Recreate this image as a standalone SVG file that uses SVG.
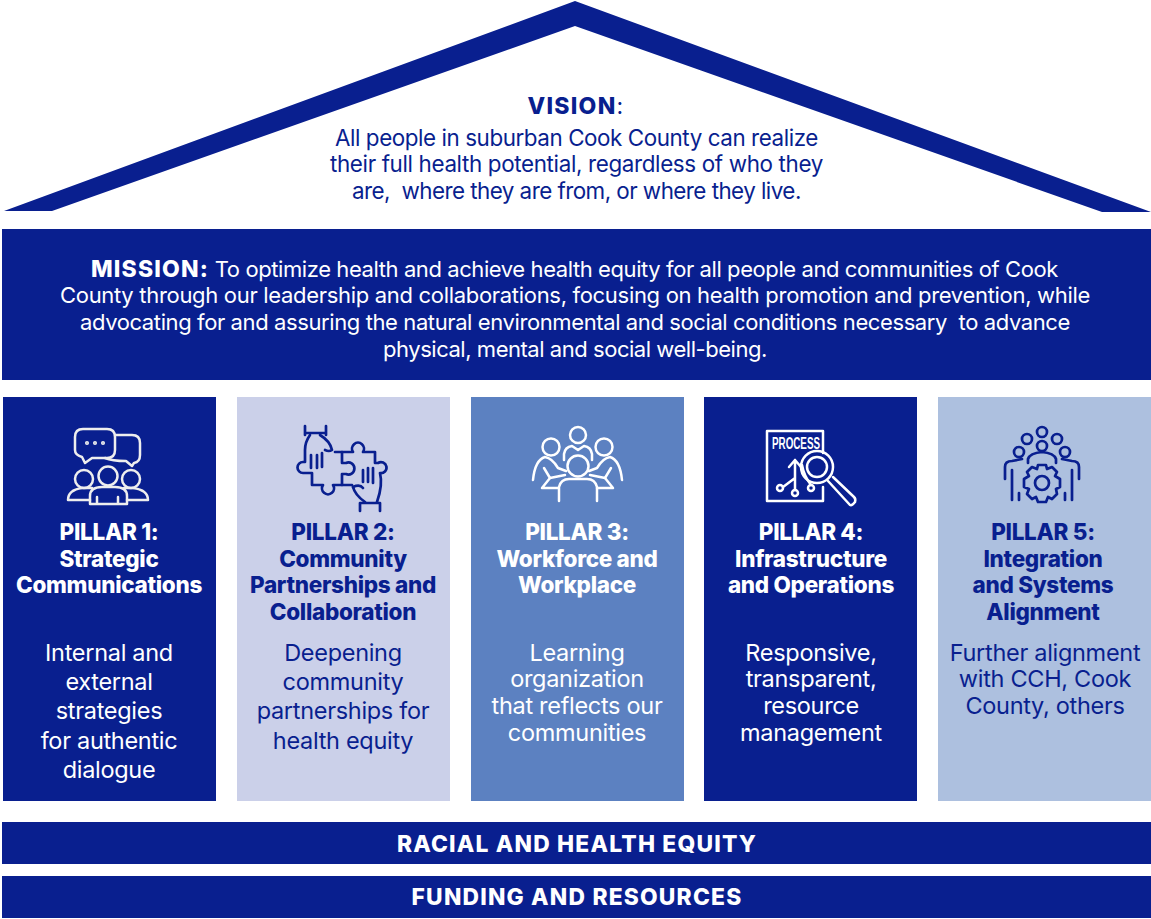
<svg xmlns="http://www.w3.org/2000/svg" width="1151" height="919" viewBox="0 0 1151 919">
<style>
text{font-family:Inter,"Open Sans","Liberation Sans",sans-serif;text-anchor:middle;white-space:pre}
.b{fill:#091f8f}.w{fill:#fff}
.h{font-size:22.5px;font-weight:800;letter-spacing:-.3px}
.v{font-size:22.4px;letter-spacing:-.33px}
.m{font-size:22px;letter-spacing:-.33px}
.k{font-size:23px;font-weight:800;letter-spacing:1.25px}
.c{font-size:23.5px;letter-spacing:-.3px}
.bar{font-size:22.8px;font-weight:800;letter-spacing:1.2px}
.iw,.id{fill:none;stroke-width:2.5;stroke-linecap:round;stroke-linejoin:round}
.iw{stroke:#fff}.id{stroke:#091f8f;stroke-width:2.7}
</style>
<rect width="1151" height="919" fill="#fff"/>
<g id="roof">
<path class="b" d="M4 211 L575 1 L1151 212 L1102 212 L575 26 L52 211Z"/>
<text class="b k" x="576" y="114">VISION<tspan font-weight="400">:</tspan></text>
<text class="b v" x="576.500" y="146" textLength="483">All people in suburban Cook County can realize</text>
<text class="b v" x="576.500" y="172" textLength="493">their full health potential, regardless of who they</text>
<text class="b v" x="576.500" y="199" textLength="449">are,  where they are from, or where they live.</text>
</g>
<g id="mission">
<rect class="b" x="2" y="229" width="1149" height="151"/>
<text class="w m" x="574.500" y="277" textLength="967"><tspan class="k">MISSION:</tspan> To optimize health and achieve health equity for all people and communities of Cook</text>
<text class="w m" x="575" y="303" textLength="1030">County through our leadership and collaborations, focusing on health promotion and prevention, while</text>
<text class="w m" x="575" y="330" textLength="990">advocating for and assuring the natural environmental and social conditions necessary  to advance</text>
<text class="w m" x="575" y="357" textLength="384">physical, mental and social well-being.</text>
</g>
<g id="pillar1">
<rect class="b" x="3" y="397" width="213" height="404"/>
<g class="iw" style="stroke:#eee">
<path d="M83 429H107Q115 429 115 437V450Q115 458 107 458H92L85 463 82 457Q75 455 75 450V437Q75 429 83 429Z"/>
<path d="M116 435H132Q140 435 140 443V455Q140 462 134 463L132 466 126 461Q112 461 105 458"/>
<circle cx="84" cy="479" r="9"/><circle cx="108" cy="476" r="9.500"/><circle cx="131" cy="479" r="9"/>
<path d="M90 500H68Q68 490 82 488H92"/><path d="M127 500H148Q148 490 133 488H124"/>
<path d="M90 504V496Q90 487 102 487H115Q127 487 127 496V504Z"/>
<path d="M97 497V503M118 497V503"/>
<circle cx="87" cy="443" r=".8"/><circle cx="95" cy="443" r=".8"/><circle cx="103" cy="443" r=".8"/>
</g>
<text class="w h" x="109" y="540">PILLAR 1:</text>
<text class="w h" x="109" y="567">Strategic</text>
<text class="w h" x="109" y="593">Communications</text>
<text class="w c" x="109" y="661">Internal and</text>
<text class="w c" x="109" y="690">external</text>
<text class="w c" x="109" y="719">strategies</text>
<text class="w c" x="109" y="749">for authentic</text>
<text class="w c" x="109" y="778">dialogue</text>
</g>
<g id="pillar2">
<rect x="237" y="397" width="213" height="404" fill="#cbd0e9"/>
<g class="id">
<path d="M305 426V435M326 426V435M305 433H326"/>
<path d="M310 435Q305 442 305 450V462H303A5.500 5.500 0 1 0 303 473H312V485H323A6 6 0 1 0 333 485H352"/>
<path d="M320 435Q330 441 332 450 329 452 325 450"/>
<path d="M311 455V468M317 455V468M322 453V467"/>
<path d="M335 452H342V463H346A6 6 0 1 1 346 474H342V485"/>
<path d="M342 452H353A6 6 0 1 1 363 452H375V463H378A5.500 5.500 0 1 1 380 473Q383 485 377 502"/>
<path d="M353 487Q355 495 365 502"/>
<path d="M353 487Q360 484 363 488"/>
<path d="M360 503H380M360 503V511M380 503V511"/>
<path d="M363 470V482M368 468V482M373 468V483"/>
</g>
<text class="b h" x="343" y="540">PILLAR 2:</text>
<text class="b h" x="343" y="567">Community</text>
<text class="b h" x="343" y="593">Partnerships and</text>
<text class="b h" x="343" y="620">Collaboration</text>
<text class="b c" x="343" y="661">Deepening</text>
<text class="b c" x="343" y="690">community</text>
<text class="b c" x="343" y="719">partnerships for</text>
<text class="b c" x="343" y="749">health equity</text>
</g>
<g id="pillar3">
<rect x="471" y="397" width="213" height="404" fill="#5c81c1"/>
<g class="iw">
<circle cx="578" cy="435" r="8"/><circle cx="551" cy="447" r="8.500"/><circle cx="604" cy="447" r="8.500"/><circle cx="578" cy="466" r="10.500"/>
<path d="M533 480Q535 460 545 457 552 458 558 468L566 471"/>
<path d="M622 480Q620 460 610 457 603 458 597 468L589 471"/>
<path d="M564 460V454Q565 447 572 446L578 450 584 446Q591 447 592 454V460"/>
<path d="M544 468L550 478 565 475M611 468L605 478 590 475"/>
<path d="M550 478L542 488H558M605 478L613 488H597"/>
<path d="M559 501V487Q561 479 569 479H587Q595 479 597 487V501"/>
</g>
<text class="w h" x="577" y="540">PILLAR 3:</text>
<text class="w h" x="577" y="567">Workforce and</text>
<text class="w h" x="577" y="593">Workplace</text>
<text class="w c" x="577" y="661">Learning</text>
<text class="w c" x="577" y="687">organization</text>
<text class="w c" x="577" y="714">that reflects our</text>
<text class="w c" x="577" y="741">communities</text>
</g>
<g id="pillar4">
<rect class="b" x="704" y="397" width="213" height="404"/>
<g class="iw">
<path d="M823 453V431H767V501H823V487"/>
<circle cx="817" cy="467" r="16"/><circle cx="817" cy="467" r="10"/>
<path d="M828 481L850 505Q852 506 855 502 856 499 854 497L833 477"/>
<path d="M795 486V460M789 467L795 460 801 467M795 478L783 487M795 478V490M802 465Q804 476 811 485"/>
<circle cx="780" cy="488" r="3"/><circle cx="795" cy="493" r="3"/><circle cx="811" cy="488" r="3"/>
</g>
<text x="796" y="449" class="w" textLength="48" lengthAdjust="spacingAndGlyphs" style="font-size:16px;font-weight:700;font-family:'Liberation Sans',sans-serif">PROCESS</text>
<text class="w h" x="811" y="540">PILLAR 4:</text>
<text class="w h" x="811" y="567">Infrastructure</text>
<text class="w h" x="811" y="593">and Operations</text>
<text class="w c" x="811" y="661">Responsive,</text>
<text class="w c" x="811" y="687">transparent,</text>
<text class="w c" x="811" y="714">resource</text>
<text class="w c" x="811" y="741">management</text>
</g>
<g id="pillar5">
<rect x="938" y="397" width="213" height="404" fill="#adc0df"/>
<g class="id">
<circle cx="1042" cy="432" r="5"/><circle cx="1027" cy="439" r="5"/><circle cx="1057" cy="439" r="5"/><circle cx="1042" cy="446" r="5"/><circle cx="1019" cy="452" r="5"/><circle cx="1065" cy="452" r="5"/>
<path d="M1028 463V459Q1030 453 1042 452 1054 453 1056 459V463"/>
<path d="M1005 479V467Q1005 461 1012 461L1022 459M1079 479V467Q1079 461 1072 461L1062 459"/>
<path d="M1012 470V500M1072 470V500M1019 493V500M1065 493V500"/>
<circle cx="1042" cy="483" r="7"/>
<path d="M1038 465H1046L1047 469 1052 467 1057 472 1055 476 1060 479V487L1056 489 1057 494 1052 499 1048 497 1046 502H1038L1036 497 1032 499 1027 494 1029 489 1024 487V479L1029 476 1027 472 1032 467 1037 469Z"/>
</g>
<text class="b h" x="1043" y="540">PILLAR 5:</text>
<text class="b h" x="1043" y="567">Integration</text>
<text class="b h" x="1043" y="593">and Systems</text>
<text class="b h" x="1043" y="620">Alignment</text>
<text class="b c" x="1045" y="661">Further alignment</text>
<text class="b c" x="1045" y="687">with CCH, Cook</text>
<text class="b c" x="1045" y="714">County, others</text>
</g>
<g id="equity">
<rect class="b" x="2" y="822" width="1149" height="42"/>
<text class="w bar" x="577" y="852">RACIAL AND HEALTH EQUITY</text>
</g>
<g id="funding">
<rect class="b" x="2" y="876" width="1149" height="42"/>
<text class="w bar" x="577" y="905">FUNDING AND RESOURCES</text>
</g>
<g id="connectors"/>
</svg>
